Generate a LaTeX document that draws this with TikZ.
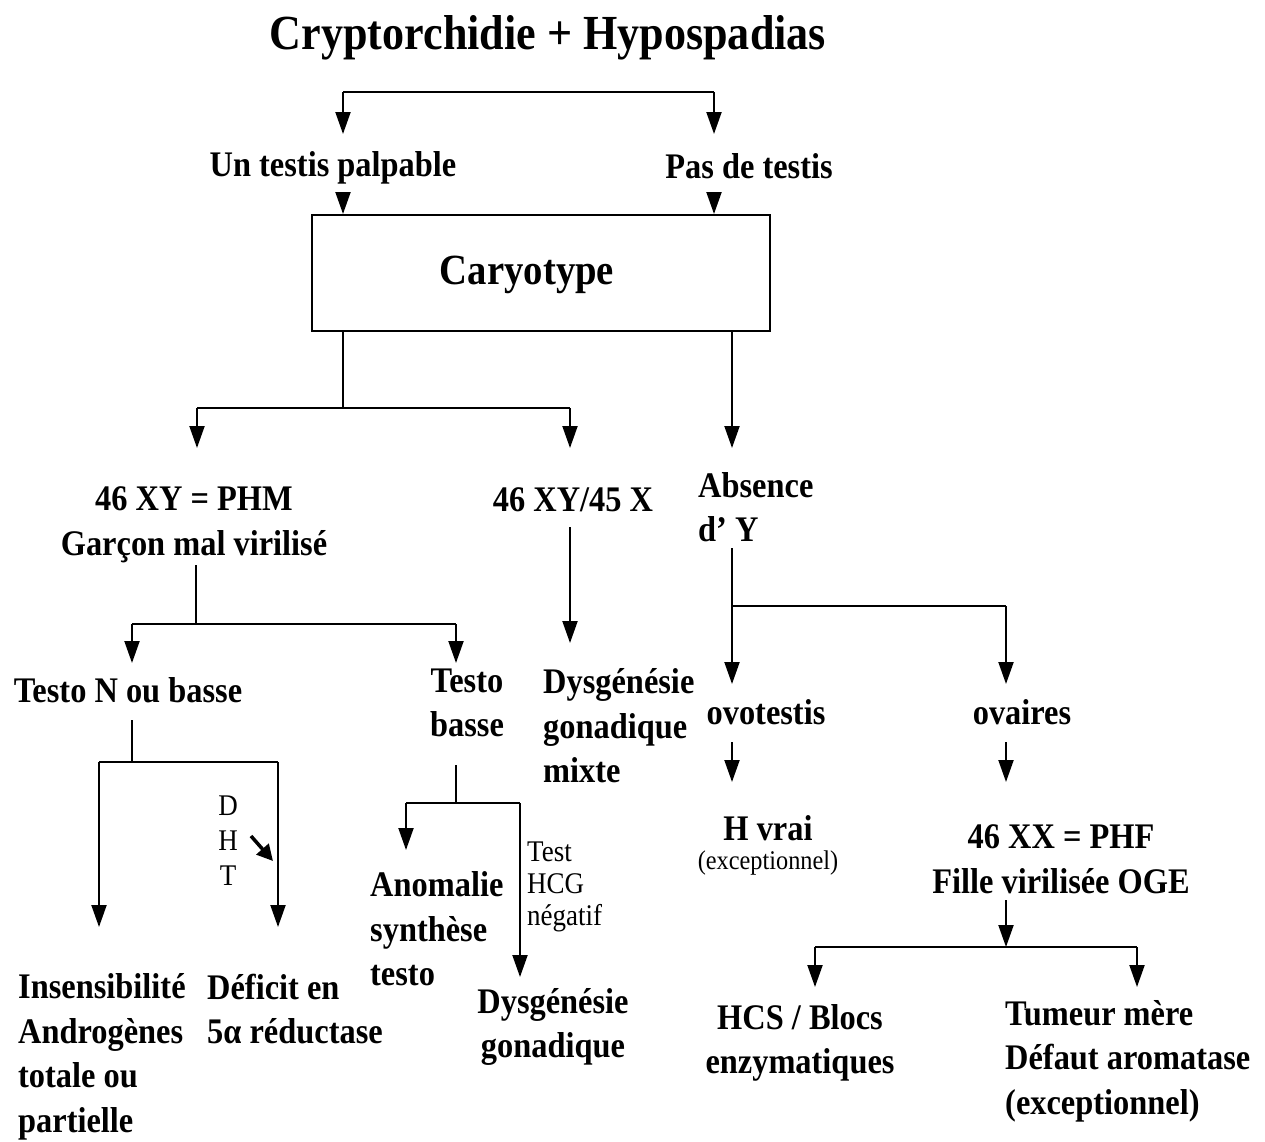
\documentclass[tikz,border=0pt]{standalone}
\usepackage{fontspec}
\setmainfont{Liberation Serif}[FakeStretch=0.9]
\usetikzlibrary{arrows.meta}
\begin{document}
\begin{tikzpicture}[x=1pt,y=-1pt,
  lbl/.style={font=\bfseries\fontsize{36}{44.5}\selectfont, inner sep=0pt, align=center},
  lbll/.style={lbl, align=left, anchor=west},
  small/.style={font=\fontsize{30}{32}\selectfont, inner sep=0pt, align=left},
  ln/.style={line width=2pt},
  arr/.style={line width=2pt, -{Triangle[width=15pt,length=22pt]}},
  boxst/.style={draw, line width=2pt, minimum width=458pt, minimum height=116pt, inner sep=0pt}
]
\useasboundingbox (0,0) rectangle (1265,1141);
% nodes
\node[font=\bfseries\fontsize{49}{56}\selectfont, inner sep=0pt] (title) at (548,38) {Cryptorchidie + Hypospadias};
\node[lbl] (utp) at (333,168) {Un testis palpable};
\node[lbl] (pdt) at (749,166) {Pas de testis};
\node[boxst] (caryo) at (541,273) {};
\node[font=\bfseries\fontsize{43}{50}\selectfont, inner sep=0pt] (caryot) at (527,275) {Caryotype};
\node[lbl] (xy) at (194,525) {46 XY = PHM\\Garçon mal virilisé};
\node[lbl] (mos) at (573,500) {46 XY/45 X};
\node[lbll] (abs) at (698,507) {Absence\\d’ Y};
\node[lbl] (tnb) at (128,690) {Testo N ou basse};
\node[lbl] (tb) at (467,703) {Testo\\basse};
\node[lbll] (dgm) at (543,726) {Dysgénésie\\gonadique\\mixte};
\node[lbl] (ovo) at (766,712) {ovotestis};
\node[lbl] (ova) at (1022,712) {ovaires};
\node[lbl] (hv) at (768,828) {H vrai};
\node[font=\fontsize{27}{30}\selectfont, inner sep=0pt] (exc) at (768,863) {(exceptionnel)};
\node[lbl] (xx) at (1061,859) {46 XX = PHF\\Fille virilisée OGE};
\node[lbl] (hcs) at (800,1043) {HCS / Blocs\\enzymatiques};
\node[lbll] (tum) at (1005,1061) {Tumeur mère\\Défaut aromatase\\(exceptionnel)};
\node[lbll] (ins) at (18,1057) {Insensibilité\\Androgènes\\totale ou\\partielle};
\node[lbll] (def) at (207,1009) {Déficit en\\5α réductase};
\node[font=\fontsize{30}{35}\selectfont, inner sep=0pt, align=center] (dht) at (228,841) {D\\H\\T};
\node[small, anchor=west] (hcg) at (527,887) {Test\\HCG\\négatif};
\node[lbll] (ano) at (370,929) {Anomalie\\synthèse\\testo};
\node[lbl] (dg) at (553,1027) {Dysgénésie\\gonadique};
% junction coordinates
\coordinate (j0a) at (343,92);  \coordinate (j0b) at (714,92);
\coordinate (a1) at (343,134);  \coordinate (a2) at (714,134);
\coordinate (s1) at (343,193);  \coordinate (s2) at (714,193);
\coordinate (c1) at (343,408);  \coordinate (c1l) at (197,408); \coordinate (c1r) at (570,408);
\coordinate (e1) at (197,448);  \coordinate (e2) at (570,448);
\coordinate (c2) at (732,331);  \coordinate (e3) at (732,448);
\coordinate (g0) at (196,565);  \coordinate (g1) at (196,624);
\coordinate (g1l) at (132,624); \coordinate (g1r) at (456,624);
\coordinate (e4) at (132,663);  \coordinate (e5) at (456,663);
\coordinate (m0) at (570,527);  \coordinate (e6) at (570,643);
\coordinate (d0) at (732,548);  \coordinate (d1) at (732,606); \coordinate (d1r) at (1006,606);
\coordinate (e7) at (732,684);  \coordinate (e8) at (1006,684);
\coordinate (o1) at (732,742);  \coordinate (o1e) at (732,782);
\coordinate (o2) at (1006,742); \coordinate (o2e) at (1006,782);
\coordinate (f0) at (1006,900); \coordinate (f1) at (1006,947);
\coordinate (f1l) at (815,947); \coordinate (f1r) at (1137,947);
\coordinate (e9) at (815,987);  \coordinate (e10) at (1137,987);
\coordinate (t0) at (132,720);  \coordinate (t1) at (132,762);
\coordinate (t1l) at (99,762);  \coordinate (t1r) at (278,762);
\coordinate (e11) at (99,927);  \coordinate (e12) at (278,927);
\coordinate (b0) at (456,765);  \coordinate (b1) at (456,803);
\coordinate (b1l) at (406,803); \coordinate (b1r) at (520,803);
\coordinate (e13) at (406,850); \coordinate (e14) at (520,977);
% connectors
\draw[ln] (j0a) -- (j0b);
\draw[arr] (j0a) -- (a1);
\draw[arr] (j0b) -- (a2);
\draw[arr] (s1) -- (s1 |- caryo.north);
\draw[arr] (s2) -- (s2 |- caryo.north);
\draw[ln] (c1 |- caryo.south) -- (c1);
\draw[ln] (c1l) -- (c1r);
\draw[arr] (c1l) -- (e1);
\draw[arr] (c1r) -- (e2);
\draw[arr] (c2) -- (e3);
\draw[ln] (g0) -- (g1);
\draw[ln] (g1l) -- (g1r);
\draw[arr] (g1l) -- (e4);
\draw[arr] (g1r) -- (e5);
\draw[arr] (m0) -- (e6);
\draw[ln] (d0) -- (d1) -- (d1r);
\draw[arr] (d1) -- (e7);
\draw[arr] (d1r) -- (e8);
\draw[arr] (o1) -- (o1e);
\draw[arr] (o2) -- (o2e);
\draw[arr] (f0) -- (f1);
\draw[ln] (f1l) -- (f1r);
\draw[arr] (f1l) -- (e9);
\draw[arr] (f1r) -- (e10);
\draw[ln] (t0) -- (t1);
\draw[ln] (t1l) -- (t1r);
\draw[arr] (t1l) -- (e11);
\draw[arr] (t1r) -- (e12);
\draw[ln] (b0) -- (b1);
\draw[ln] (b1l) -- (b1r);
\draw[arr] (b1l) -- (e13);
\draw[arr] (b1r) -- (e14);
\coordinate (h0) at (251,836); \coordinate (h1) at (273,861);
\draw[line width=3.5pt, -{Triangle[width=16pt,length=16pt]}] (h0) -- (h1);
\end{tikzpicture}
\end{document}
